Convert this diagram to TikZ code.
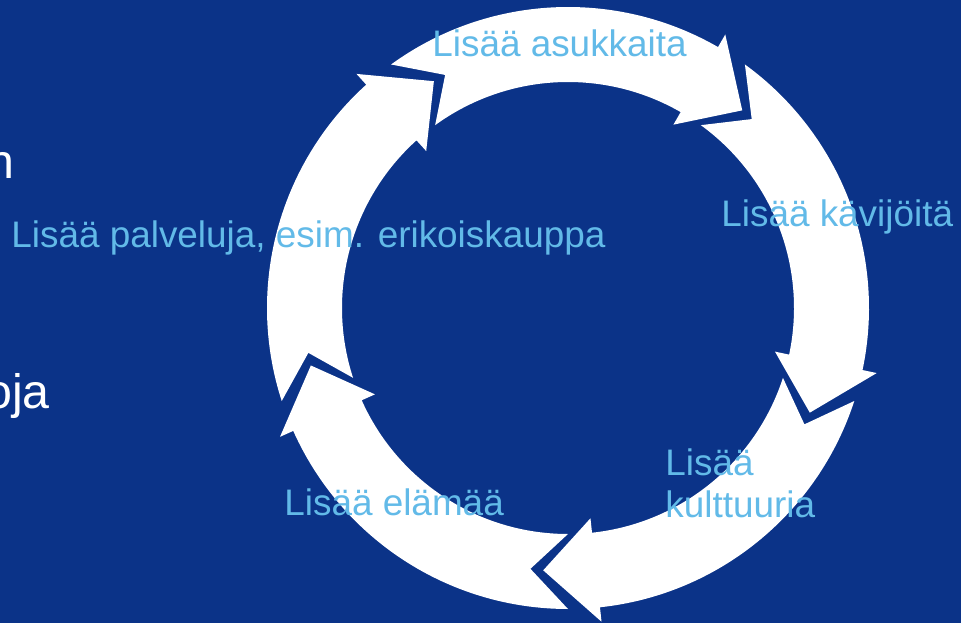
\documentclass[tikz,border=0pt]{standalone}
\usepackage{fontspec}
\setmainfont{Liberation Sans}
\usepackage{tikz}
\usepackage{xcolor}
\definecolor{slideBlue}{RGB}{11,51,136}
\definecolor{skyText}{RGB}{98,186,232}

\begin{document}
\begin{tikzpicture}[
  cyclabel/.style={
    text=skyText,
    font=\fontsize{21}{24}\selectfont,
    inner sep=0pt
  },
  sidetext/.style={
    text=white,
    font=\fontsize{27.5}{33}\selectfont,
    inner sep=0pt
  },
  ringarrow/.style={fill=white, draw=none}
]
  \fill[slideBlue] (0,0) rectangle (19.22,12.46);
  \useasboundingbox (0,0) rectangle (19.22,12.46);
  \coordinate (c) at (11.36,6.30);

  % five block arrows round the ring, clockwise; \tip is the angle of each head
  \begin{scope}[shift={(c)}]
    \foreach \tip in {48.6,-23.4,-95.4,-167.4,-239.4} {
      \pgfmathsetmacro\tailA{\tip+72+5.4}
      \pgfmathsetmacro\tailB{\tip+72-2.8}
      \pgfmathsetmacro\headbase{\tip+11.5}
      \fill[ringarrow] (\tailA:6.02)
        arc[start angle=\tailA, end angle=\headbase, radius=6.02]
        -- (\headbase:6.31) -- (\tip:5.27) -- (\headbase:4.23)
        -- (\headbase:4.52)
        arc[start angle=\headbase, end angle=\tailA, radius=4.52]
        -- (\tailB:5.27) -- cycle;
    }
  \end{scope}

  \node[cyclabel, anchor=base west] (asukkaat) at (8.64,11.32) {Lisää asukkaita};
  \node[cyclabel, anchor=base west] (kavijat) at (14.42,7.92) {Lisää kävijöitä};
  \node[cyclabel, anchor=base west] (kulttuuri1) at (13.30,2.96) {Lisää};
  \node[cyclabel, anchor=base west] (kulttuuri2) at (13.30,2.12) {kulttuuria};
  \node[cyclabel, anchor=base west] (elama) at (5.68,2.16) {Lisää elämää};
  \node[cyclabel, anchor=base west] (palvelut) at (0.22,7.52)
    {Lisää palveluja, esim. erikoiskauppa};

  \node[sidetext, anchor=base east] (sideA) at (0.30,8.90) {n};
  \node[sidetext, anchor=base east] (sideB) at (1.00,4.30) {oja};
\end{tikzpicture}
\end{document}
